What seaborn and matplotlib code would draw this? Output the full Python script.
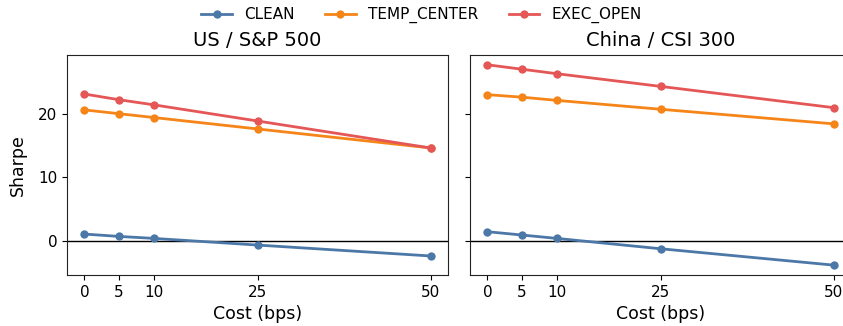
import matplotlib
matplotlib.use("Agg")
import matplotlib.pyplot as plt
import seaborn as sns
import pandas as pd

costs = [0, 5, 10, 25, 50]
series_names = ["CLEAN", "TEMP_CENTER", "EXEC_OPEN"]
colors = ["#4c78a8", "#f58518", "#e45756"]

us_clean = [1.05, 0.68, 0.37, -0.68, -2.4]
us_temp = [20.6, 20.0, 19.4, 17.6, 14.6]
us_exec = [23.1, 22.2, 21.4, 18.85, 14.6]

cn_clean = [1.42, 0.9, 0.37, -1.26, -3.84]
cn_temp = [23.0, 22.6, 22.1, 20.7, 18.4]
cn_exec = [27.7, 27.0, 26.3, 24.3, 20.95]

titles = ["US / S&P 500", "China / CSI 300"]
yticks = [0, 10, 20]

rows = []
for market, vals in zip(titles, [[us_clean, us_temp, us_exec], [cn_clean, cn_temp, cn_exec]]):
    for name, v in zip(series_names, vals):
        for c, s in zip(costs, v):
            rows.append({"market": market, "strategy": name, "cost": c, "sharpe": s})
df = pd.DataFrame(rows)

plt.rcParams["font.family"] = ["DejaVu Sans"]

fig, axes = plt.subplots(1, 2, figsize=(8.43, 3.26), dpi=100, sharey=True)
palette = dict(zip(series_names, colors))
for ax, market in zip(axes, titles):
    sub = df[df.market == market]
    sns.lineplot(data=sub, x="cost", y="sharpe", hue="strategy", hue_order=series_names,
                 palette=palette, marker="o", markersize=6, markeredgewidth=0,
                 linewidth=2, ax=ax, legend=(ax is axes[0]))
    ax.axhline(0, color="black", linewidth=1, zorder=0)
    ax.set_title(market, fontsize=14)
    ax.set_xlabel("Cost (bps)", fontsize=12.5)
    ax.set_xticks(costs)
    ax.set_yticks(yticks)
    ax.tick_params(labelsize=11)
    for sp in ax.spines.values():
        sp.set_color("#222222")
axes[0].set_ylabel("Sharpe", fontsize=12.5)
axes[0].yaxis.set_label_coords(-0.105, 0.5)
axes[1].set_ylabel("")
handles, labels = axes[0].get_legend_handles_labels()
axes[0].get_legend().remove()
fig.legend(handles, labels, loc="upper center", ncol=3, frameon=False,
           fontsize=11, bbox_to_anchor=(0.5, 1.02), columnspacing=2.0)
fig.subplots_adjust(left=0.0795, right=1.0095, top=0.832, bottom=0.156, wspace=0.0577)
fig.savefig("out.png", dpi=100)
